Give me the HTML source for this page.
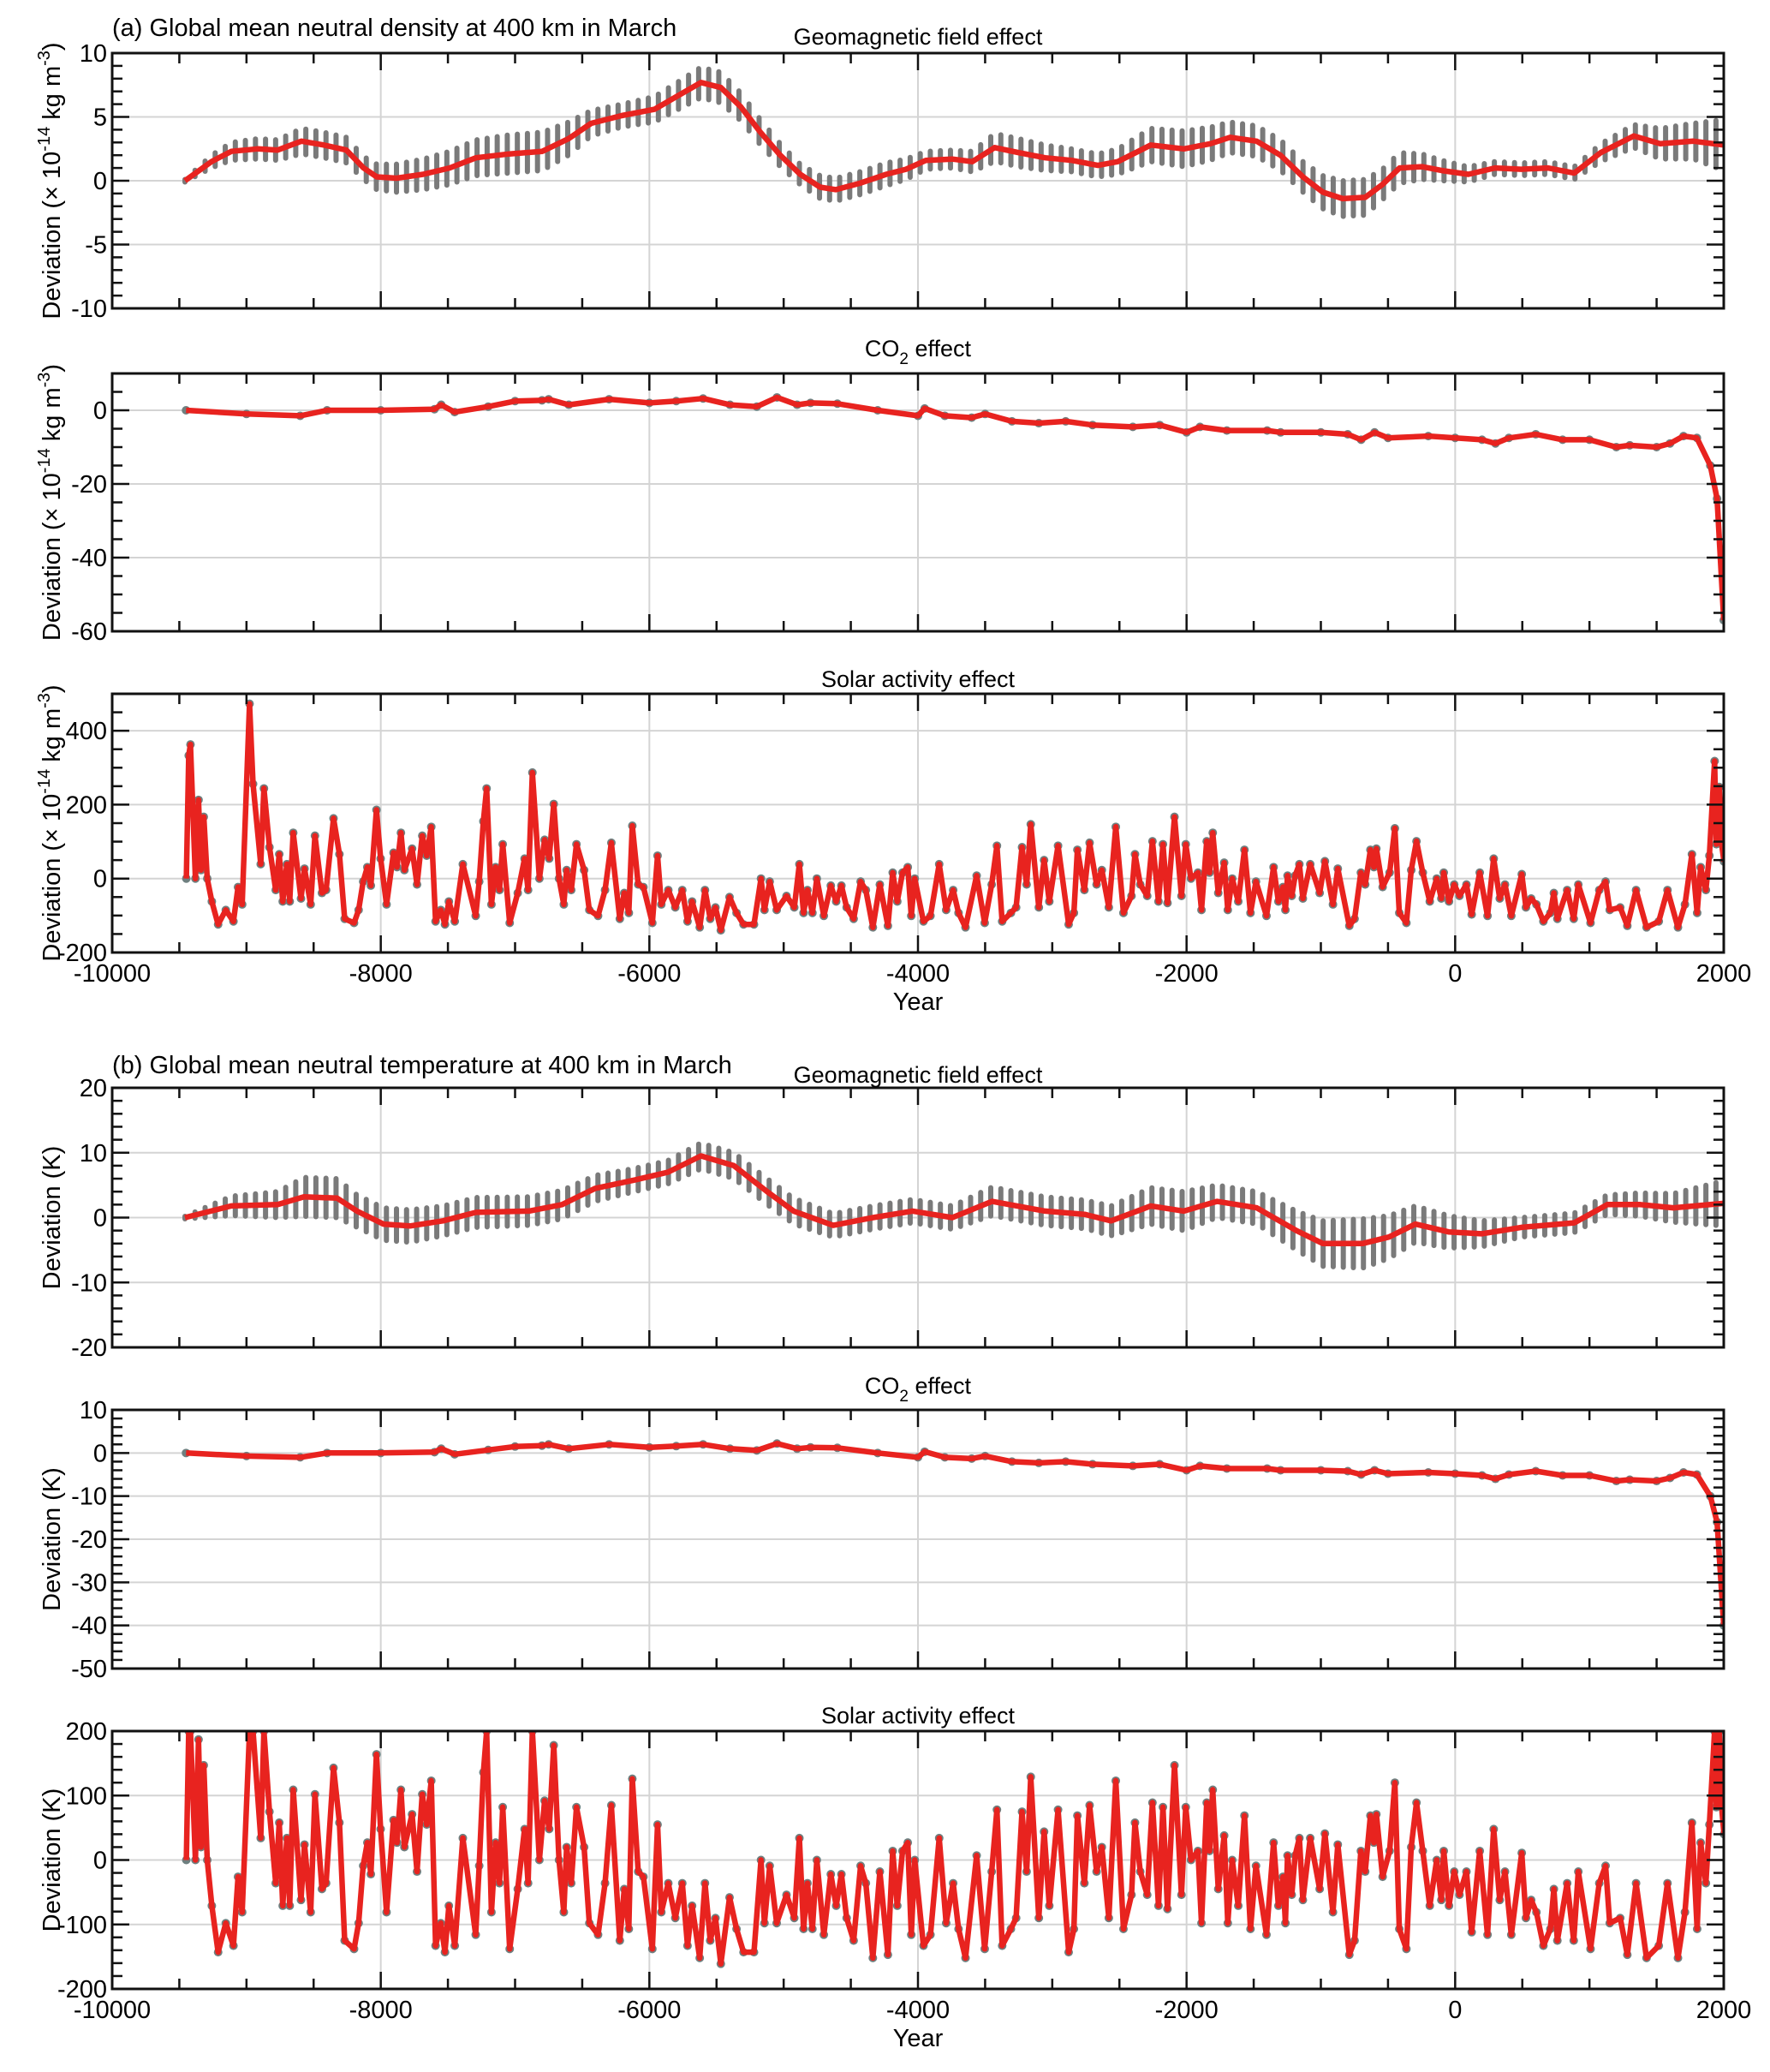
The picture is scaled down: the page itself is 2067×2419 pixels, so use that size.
<!DOCTYPE html>
<html><head><meta charset="utf-8">
<style>
html,body{margin:0;padding:0;background:#fff;}
svg{display:block;font-family:"Liberation Sans",Arial,sans-serif;}
</style></head>
<body>
<svg id="fig" width="2067" height="2419" viewBox="0 0 2067 2419" xmlns="http://www.w3.org/2000/svg">
<text x="131" y="42" font-size="29">(a)  Global mean neutral density at 400 km in March</text>
<text x="131" y="1253" font-size="29">(b)  Global mean neutral temperature at 400 km in March</text>
</svg>
<script>
// ---------- DATA ----------
const geoDYears=[-9458,-9261,-9113,-8916,-8768,-8591,-8424,-8256,-8128,-8030,-7882,-7685,-7488,-7291,-7044,-6798,-6601,-6434,-6207,-5961,-5764,-5616,-5468,-5320,-5173,-5025,-4877,-4729,-4611,-4434,-4236,-4089,-3941,-3744,-3596,-3429,-3251,-3054,-2857,-2660,-2512,-2266,-2020,-1823,-1675,-1478,-1301,-1133,-985,-838,-670,-542,-414,-247,-99,98,296,493,690,887,1084,1330,1527,1773,2000];
const geoDMean=[0,1.5,2.3,2.5,2.4,3.1,2.8,2.4,1.0,0.3,0.2,0.5,1.0,1.8,2.1,2.3,3.3,4.5,5.1,5.6,6.8,7.7,7.3,5.8,3.8,2.0,0.5,-0.5,-0.7,-0.2,0.5,0.9,1.6,1.7,1.5,2.6,2.2,1.8,1.6,1.2,1.5,2.8,2.5,2.9,3.4,3.1,2.0,0.3,-0.9,-1.4,-1.3,-0.3,1.0,1.1,0.8,0.5,1.0,0.9,1.0,0.6,2.2,3.5,2.9,3.1,2.8];
const geoDErr=[0.1,0.5,0.7,0.8,0.8,1.0,1.0,1.0,0.9,1.0,1.1,1.2,1.3,1.4,1.5,1.5,1.3,1.0,0.9,1.0,1.1,1.2,1.2,1.1,1.0,0.9,0.8,0.9,0.9,0.9,0.9,0.8,0.7,0.7,0.8,1.1,1.1,1.0,0.9,0.9,1.0,1.3,1.4,1.3,1.2,1.2,1.2,1.2,1.3,1.4,1.4,1.2,1.2,1.0,0.8,0.6,0.5,0.5,0.5,0.5,0.7,0.9,1.2,1.4,2.0];

const co2DYears=[-9450,-9000,-8600,-8400,-8000,-7600,-7550,-7450,-7200,-7000,-6800,-6750,-6600,-6300,-6000,-5800,-5600,-5400,-5200,-5050,-4900,-4800,-4600,-4300,-4000,-3950,-3800,-3600,-3500,-3300,-3100,-2900,-2700,-2400,-2200,-2000,-1900,-1700,-1400,-1300,-1000,-800,-700,-600,-500,-200,0,200,300,400,600,800,1000,1200,1300,1500,1600,1700,1800,1900,1950,2000];
const co2DVals=[0,-1,-1.5,0,0,0.3,1.5,-0.5,1,2.5,2.7,3,1.5,3,2,2.5,3.2,1.5,1,3.5,1.5,2,1.8,0,-1.5,0.5,-1.5,-2,-1,-3,-3.5,-3,-4,-4.5,-4,-6,-4.5,-5.5,-5.5,-6,-6,-6.5,-8,-6,-7.5,-7,-7.5,-8,-9,-7.5,-6.5,-8,-8,-10,-9.5,-10,-9,-7,-7.5,-15,-24,-57];

const solYears=[-9448,-9430,-9417,-9380,-9357,-9339,-9318,-9292,-9258,-9211,-9154,-9097,-9063,-9032,-8977,-8951,-8894,-8870,-8829,-8782,-8756,-8730,-8699,-8678,-8652,-8594,-8568,-8522,-8490,-8438,-8407,-8352,-8308,-8269,-8199,-8165,-8131,-8100,-8074,-8032,-8001,-7957,-7905,-7879,-7850,-7824,-7767,-7730,-7691,-7658,-7624,-7592,-7553,-7522,-7493,-7449,-7389,-7293,-7267,-7236,-7212,-7176,-7145,-7116,-7092,-7040,-6980,-6929,-6903,-6871,-6819,-6780,-6746,-6712,-6673,-6637,-6616,-6582,-6543,-6486,-6447,-6382,-6330,-6283,-6220,-6187,-6153,-6127,-6083,-6044,-5978,-5939,
-5911,-5859,-5807,-5755,-5716,-5682,-5625,-5586,-5547,-5508,-5468,-5403,-5351,-5299,-5221,-5169,-5143,-5104,-5052,-4979,-4921,-4883,-4852,-4823,-4786,-4753,-4701,-4649,-4609,-4570,-4531,-4479,-4427,-4388,-4336,-4284,-4224,-4188,-4154,-4115,-4076,-4050,-4024,-3959,-3907,-3842,-3790,-3738,-3698,-3646,-3563,-3503,-3451,-3412,-3373,-3308,-3269,-3225,-3191,-3160,-3100,-3061,-3022,-2957,-2878,-2839,-2813,-2761,-2722,-2670,-2631,-2579,-2527,-2470,-2410,-2384,-2345,-2293,-2254,-2209,-2176,-2142,-2090,-2038,-2006,-1967,-1915,
-1889,-1850,-1829,-1805,-1764,-1720,-1693,-1660,-1615,-1569,-1524,-1483,-1405,-1352,-1316,-1282,-1264,-1248,-1217,-1191,-1160,-1134,-1079,-1009,-970,-910,-874,-788,-749,-702,-670,-631,-605,-587,-540,-488,-449,-416,-363,-327,-288,-241,-189,-137,-103,-85,-46,-7,32,84,123,183,241,287,332,371,418,496,527,566,605,657,709,735,761,834,883,917,1008,1073,1120,1151,1229,1282,1347,1425,1516,1581,1659,1711,1763,1802,1828,1867,1893,1932,1945,1966,1984,2002];
const solDVals=[0,333,363,0,213,23,167,0,-62,-124,-85,-116,-23,-70,473,256,39,244,85,-31,66,-62,39,-62,124,-54,27,-70,116,-39,-31,163,66,-109,-120,-85,-8,31,-19,186,54,-70,70,31,124,23,81,-16,116,62,140,-116,-85,-124,-62,-116,39,-101,-8,155,244,-70,31,-31,93,-120,-39,54,-31,287,0,105,54,202,0,-70,23,-31,93,23,-85,-101,-31,97,-109,-39,-93,143,-16,-23,-120,62,
-70,-31,-78,-31,-116,-62,-132,-31,-109,-78,-140,-50,-93,-124,-124,0,-85,-8,-85,-47,-78,39,-93,-31,-93,0,-101,-19,-62,-19,-78,-109,-8,-31,-132,-16,-128,16,-62,16,31,-101,0,-116,-101,39,-85,-31,-93,-132,8,-120,-16,89,-116,-93,-78,85,-16,147,-78,50,-62,89,-124,-93,78,-31,97,-16,23,-78,140,-93,-47,66,-16,-47,101,-62,93,-66,167,-47,93,0,16,
-85,101,16,124,-39,43,-85,0,-62,78,-93,-8,-101,31,-62,-23,-85,8,-47,8,39,-54,39,-39,47,-70,27,-128,-109,16,-16,78,31,81,-23,16,136,-93,-120,23,101,16,-62,0,-54,16,-62,-16,-47,-16,-97,16,-101,54,-54,-16,-101,12,-78,-54,-70,-116,-93,-39,-109,-31,-109,-16,-120,-31,-8,-85,-78,-128,-31,-132,-116,-31,-132,-70,66,-93,31,-31,62,318,93,248,93,46];

const geoTYears=[-9458,-9113,-8768,-8572,-8325,-8177,-7980,-7783,-7537,-7291,-6897,-6650,-6404,-6108,-5862,-5616,-5370,-5123,-4926,-4631,-4335,-4040,-3744,-3449,-3054,-2759,-2562,-2266,-2020,-1774,-1478,-1182,-985,-690,-493,-296,-49,197,493,887,1133,1379,1625,2000];
const geoTMean=[0,1.8,2,3.2,3,1,-1,-1.3,-0.5,0.8,1,2,4.5,5.8,7,9.5,8,4,1,-1.2,0,1,0,2.5,1,0.5,-0.5,1.8,1,2.5,1.5,-2,-4,-4,-3,-1,-2.2,-2.5,-1.5,-0.8,2,2,1.5,2.2];
const geoTErr=[0.2,1.5,2,3,3,2.5,2.5,2.5,2.3,2.3,2.2,2.2,2,1.8,1.8,2,2,2,2,1.8,1.8,1.8,1.8,2.2,2.2,2.2,2.3,2.8,3,2.5,2.5,3,3.5,3.8,3.3,2.8,2.5,2,1.5,1.5,1.5,1.8,2.2,3.5];

const co2TYears=[-9450,-9000,-8600,-8400,-8000,-7600,-7550,-7450,-7200,-7000,-6800,-6750,-6600,-6300,-6000,-5800,-5600,-5400,-5200,-5050,-4900,-4800,-4600,-4300,-4000,-3950,-3800,-3600,-3500,-3300,-3100,-2900,-2700,-2400,-2200,-2000,-1900,-1700,-1400,-1300,-1000,-800,-700,-600,-500,-200,0,200,300,400,600,800,1000,1200,1300,1500,1600,1700,1800,1900,1950,2000];
const co2TVals=[0,-0.7,-1,0,0,0.2,1,-0.3,0.7,1.5,1.7,2,1,2,1.3,1.6,2,1,0.6,2.2,1,1.3,1.2,0,-1,0.3,-1,-1.3,-0.7,-2,-2.3,-2,-2.6,-3,-2.6,-4,-3,-3.6,-3.6,-4,-4,-4.2,-5,-4,-4.8,-4.5,-4.8,-5.2,-6,-5,-4.2,-5.2,-5.2,-6.5,-6.2,-6.5,-5.8,-4.5,-5,-10,-16,-40];

const solTVals=[0,200,200,0,187,20,147,0,-71,-143,-98,-133,-26,-81,200,200,34,200,75,-36,58,-71,34,-71,109,-62,24,-81,102,-45,-36,143,58,-125,-138,-98,-9,27,-22,164,48,-81,62,27,109,20,71,-18,102,55,123,-133,-98,-143,-71,-133,34,-116,-9,136,200,-81,27,-36,82,-138,-45,48,-36,200,0,92,48,178,0,-81,20,-36,82,20,-98,-116,-36,85,-125,-45,-107,126,-18,-26,-138,55,
-81,-36,-90,-36,-133,-71,-152,-36,-125,-90,-161,-58,-107,-143,-143,0,-98,-9,-98,-54,-90,34,-107,-36,-107,0,-116,-22,-71,-22,-90,-125,-9,-36,-152,-18,-147,14,-71,14,27,-116,0,-133,-116,34,-98,-36,-107,-152,7,-138,-18,78,-133,-107,-90,75,-18,129,-90,44,-71,78,-143,-107,69,-36,85,-18,20,-90,123,-107,-54,58,-18,-54,89,-71,82,-76,147,-54,82,0,14,
-98,89,14,109,-45,38,-98,0,-71,69,-107,-9,-116,27,-71,-26,-98,7,-54,7,34,-62,34,-45,41,-81,24,-147,-125,14,-18,69,27,71,-26,14,120,-107,-138,20,89,14,-71,0,-62,14,-71,-18,-54,-18,-112,14,-116,48,-62,-18,-116,11,-90,-62,-81,-133,-107,-45,-125,-36,-125,-18,-138,-36,-9,-98,-90,-147,-36,-152,-133,-36,-152,-81,58,-107,27,-36,55,200,82,200,82,40];

const xTickLabels=["-10000","-8000","-6000","-4000","-2000","0","2000"];

// ---------- DRAWING ----------
const NS="http://www.w3.org/2000/svg";
const svg=document.getElementById('fig');
const X0=131,X1=2013,YMIN=-10000,YMAX=2000;
function xs(v){return X0+(v-YMIN)/(YMAX-YMIN)*(X1-X0);}
function mk(tag,attrs,parent){const e=document.createElementNS(NS,tag);for(const k in attrs)e.setAttribute(k,attrs[k]);(parent||svg).appendChild(e);return e;}

function panel(p){
  const g=mk('g',{});
  
  
  const ys=v=>p.bot-(v-p.lo)/(p.hi-p.lo)*(p.bot-p.top);
  for(let yr=-8000;yr<2000;yr+=2000){const l=mk('line',{x1:xs(yr),x2:xs(yr),y1:p.top,y2:p.bot,stroke:'#d4d4d4','stroke-width':2},g);}
  p.labels.forEach(v=>{if(v>p.lo&&v<p.hi){const l=mk('line',{x1:X0,x2:X1,y1:ys(v),y2:ys(v),stroke:'#d4d4d4','stroke-width':2},g);}});
  const cid='clip'+p.name;
  const cp=mk('clipPath',{id:cid},g);mk('rect',{x:X0,y:p.top,width:X1-X0,height:p.bot-p.top},cp);
  const dg=mk('g',{'clip-path':'url(#'+cid+')'},g);
  if(p.err){
    const ys2=p.years,m=p.vals,e=p.err;
    for(let yr=ys2[0];yr<=2000;yr+=75){
      let i=0;while(i<ys2.length-2&&ys2[i+1]<yr)i++;
      const t=Math.max(0,Math.min(1,(yr-ys2[i])/(ys2[i+1]-ys2[i])));
      const mv=m[i]+(m[i+1]-m[i])*t, ev=e[i]+(e[i+1]-e[i])*t;
      const b=mk('line',{x1:xs(yr),x2:xs(yr),y1:ys(mv+ev),y2:ys(mv-ev),stroke:'#7a7a7a','stroke-width':6,'stroke-linecap':'round'},dg);
      
      
    }
  }
  const n=Math.min(p.years.length,p.vals.length);
  let d='';
  for(let i=0;i<n;i++){d+=(i?'L':'M')+xs(p.years[i]).toFixed(1)+','+ys(p.vals[i]).toFixed(1);}
  if(p.dots){
    for(let i=0;i<n;i++){const c=mk('circle',{cx:xs(p.years[i]),cy:ys(p.vals[i]),r:5,fill:'#6f8080'},dg);}
  }
  const path=mk('path',{d:d,fill:'none',stroke:'#e8231f','stroke-width':6.5,'stroke-linejoin':'round'},dg);
  
  
  for(let yr=-9500;yr<2000;yr+=500){
    const major=(yr%2000===0);const L=major?20:12;
    mk('line',{x1:xs(yr),x2:xs(yr),y1:p.top,y2:p.top+L,stroke:'#111','stroke-width':2.5},g);
    mk('line',{x1:xs(yr),x2:xs(yr),y1:p.bot,y2:p.bot-L,stroke:'#111','stroke-width':2.5},g);
  }
  for(let v=p.lo;v<=p.hi+1e-9;v+=p.minor){
    const major=p.labels.some(l=>Math.abs(l-v)<1e-9);const L=major?20:12;
    mk('line',{x1:X0,x2:X0+L,y1:ys(v),y2:ys(v),stroke:'#111','stroke-width':2.5},g);
    mk('line',{x1:X1,x2:X1-L,y1:ys(v),y2:ys(v),stroke:'#111','stroke-width':2.5},g);
  }
  const fr=mk('rect',{x:X0,y:p.top,width:X1-X0,height:p.bot-p.top,fill:'none',stroke:'#111','stroke-width':3},g);
  
  
  p.labels.forEach(v=>{const t=mk('text',{x:X0-6,y:ys(v)+10,'font-size':29,'text-anchor':'end'},g);t.textContent=String(v);});
  const st=mk('text',{x:(X0+X1)/2,y:p.subY,'font-size':27,'text-anchor':'middle'},g);
  st.innerHTML=p.sub;
  
  
  const yt=mk('text',{transform:'translate('+p.ytx+','+((p.top+p.bot)/2)+') rotate(-90)','font-size':29,'text-anchor':'middle'},g);
  yt.innerHTML=p.ytitle;
  
  
  if(p.xlab){
    xTickLabels.forEach((s,i)=>{const t=mk('text',{x:xs(-10000+2000*i),y:p.bot+34,'font-size':29,'text-anchor':'middle'},g);t.textContent=s;});
    const xt=mk('text',{x:(X0+X1)/2,y:p.bot+67,'font-size':29,'text-anchor':'middle'},g);xt.textContent='Year';
    
    
  }
}
const dUnit='Deviation (× 10<tspan dy="-12" font-size="20">-14</tspan><tspan dy="12"> kg m</tspan><tspan dy="-12" font-size="20">-3</tspan><tspan dy="12">)</tspan>';
const co2Sub='CO<tspan dy="9" font-size="19">2</tspan><tspan dy="-9"> effect</tspan>';
panel({name:'density-geomagnetic-panel',top:62,bot:360,lo:-10,hi:10,minor:1,labels:[-10,-5,0,5,10],years:geoDYears,vals:geoDMean,err:geoDErr,sub:'Geomagnetic field effect',subY:52,ytitle:dUnit,ytx:70});
panel({name:'density-co2-panel',top:436,bot:737,lo:-60,hi:10,minor:5,labels:[-60,-40,-20,0],years:co2DYears,vals:co2DVals,dots:true,sub:co2Sub,subY:416,ytitle:dUnit,ytx:70});
panel({name:'density-solar-panel',top:810,bot:1112,lo:-200,hi:500,minor:50,labels:[-200,0,200,400],years:solYears,vals:solDVals,dots:true,sub:'Solar activity effect',subY:802,ytitle:dUnit,ytx:70,xlab:true});
panel({name:'temperature-geomagnetic-panel',top:1270,bot:1573,lo:-20,hi:20,minor:2,labels:[-20,-10,0,10,20],years:geoTYears,vals:geoTMean,err:geoTErr,sub:'Geomagnetic field effect',subY:1264,ytitle:'Deviation (K)',ytx:70});
panel({name:'temperature-co2-panel',top:1646,bot:1948,lo:-50,hi:10,minor:2,labels:[-50,-40,-30,-20,-10,0,10],years:co2TYears,vals:co2TVals,dots:true,sub:co2Sub,subY:1627,ytitle:'Deviation (K)',ytx:70});
panel({name:'temperature-solar-panel',top:2021,bot:2322,lo:-200,hi:200,minor:20,labels:[-200,-100,0,100,200],years:solYears,vals:solTVals,dots:true,sub:'Solar activity effect',subY:2012,ytitle:'Deviation (K)',ytx:70,xlab:true});
</script>
</body></html>
